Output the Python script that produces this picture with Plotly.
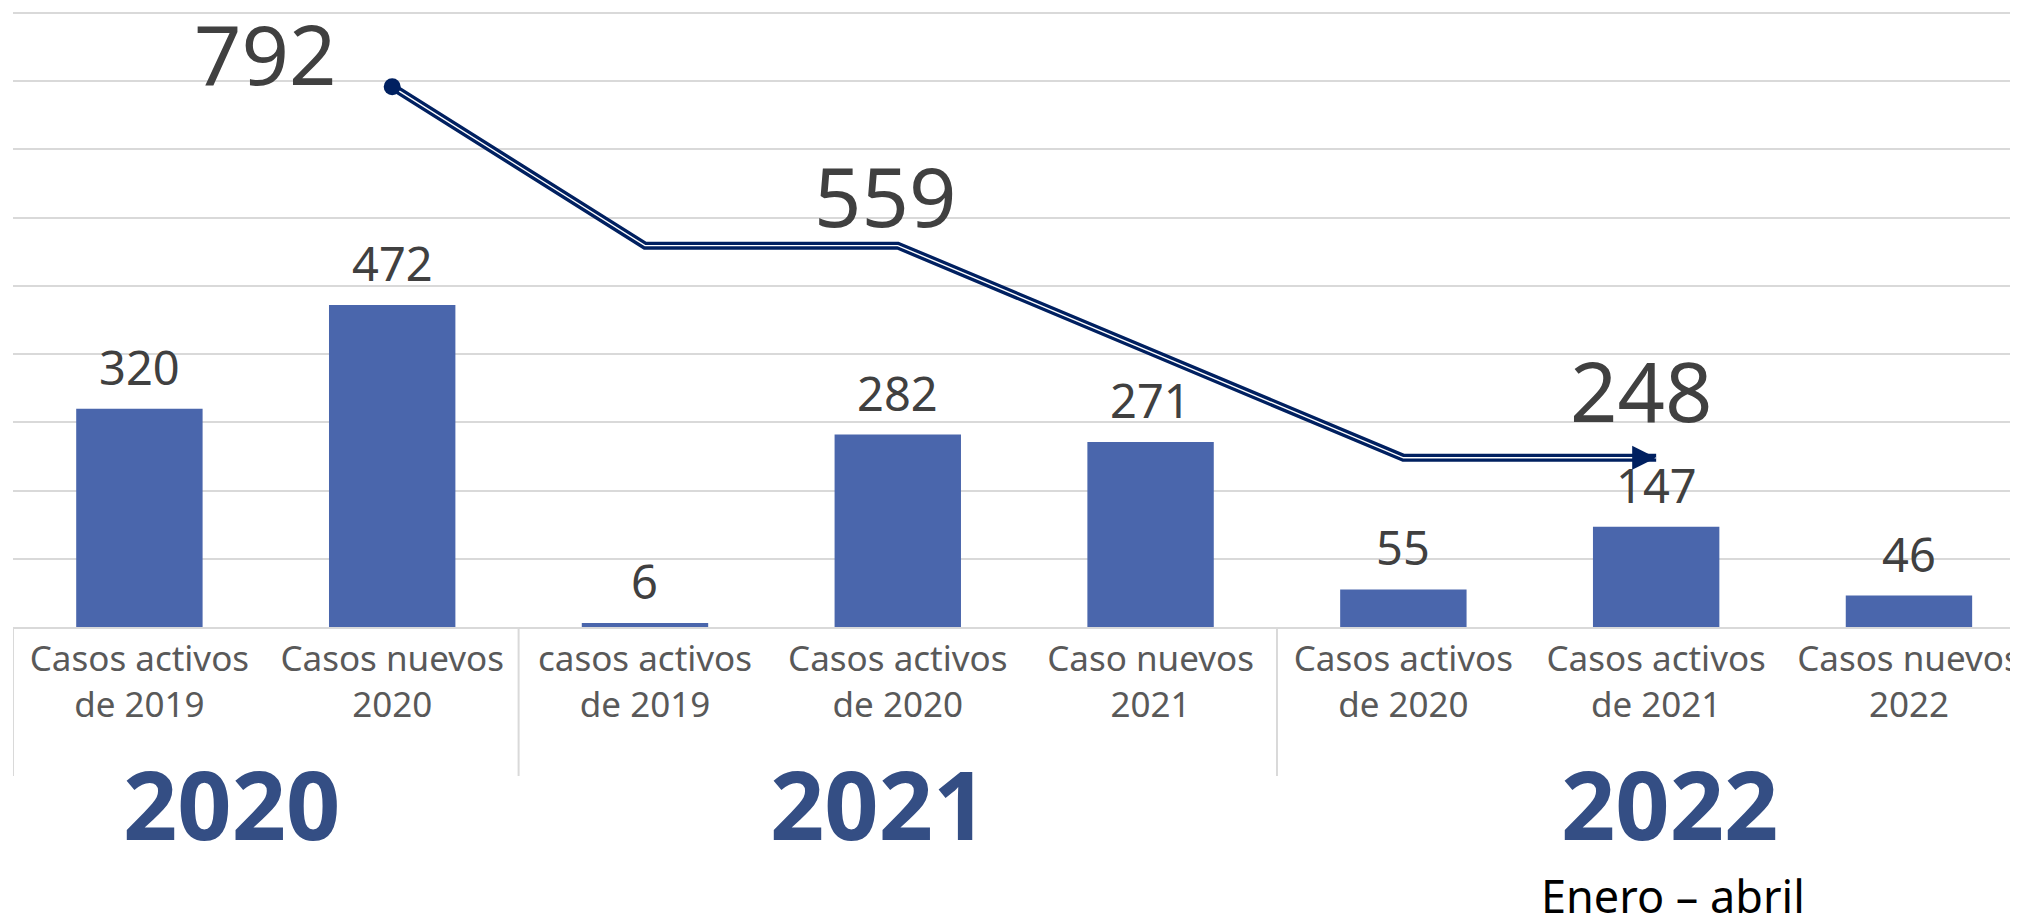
import plotly.graph_objects as go

# ---- data ----
categories = [
    "Casos activos<br>de 2019", "Casos nuevos<br>2020",
    "casos activos<br>de 2019", "Casos activos<br>de 2020", "Caso nuevos<br>2021",
    "Casos activos<br>de 2020", "Casos activos<br>de 2021", "Casos nuevos<br>2022",
]
values = [320, 472, 6, 282, 271, 55, 147, 46]
groups = ["2020", "2021", "2022"]
group_sizes = [2, 3, 3]
group_note = "Enero – abril"
total_labels = ["792", "559", "248"]
line_idx = [1, 2, 3, 5, 6]
line_vals = [792, 559, 559, 248, 248]

BAR = "#4A66AC"
NAVY = "#002060"
GRID = "#D9D9D9"
FONT = "Noto Sans"

x = list(range(len(categories)))
fig = go.Figure()
fig.add_trace(go.Bar(x=x, y=values, width=0.5, marker_color=BAR,
                     marker_line_width=0, hoverinfo="skip"))

# compound (double) line
fig.add_trace(go.Scatter(x=line_idx, y=line_vals, mode="lines",
                         line=dict(color=NAVY, width=8), hoverinfo="skip"))
fig.add_trace(go.Scatter(x=line_idx, y=line_vals, mode="lines",
                         line=dict(color="white", width=1.4), hoverinfo="skip"))
# start dot and end arrow
fig.add_trace(go.Scatter(x=line_idx[:1], y=line_vals[:1], mode="markers", hoverinfo="skip",
                         marker=dict(symbol="circle", size=17, color=NAVY)))
fig.add_trace(go.Scatter(x=line_idx[-1:], y=line_vals[-1:], mode="markers", hoverinfo="skip",
                         marker=dict(symbol="arrow-right", size=24, color=NAVY,
                                     line=dict(width=0))))

annotations = []
# bar value labels
for i, v in enumerate(values):
    annotations.append(dict(x=i, y=v, text=str(v), showarrow=False,
                            yanchor="bottom", yshift=8,
                            font=dict(family=FONT, size=47, color="#404040")))
# total labels (above the year line)
tot_points = [(1, 792, -127, 34), (3, 559, -13, 51), (6, 248, -15, 68)]
for lbl, (px, py, xs, ys) in zip(total_labels, tot_points):
    annotations.append(dict(x=px, y=py, text=lbl, showarrow=False,
                            xanchor="center", yanchor="middle", xshift=xs, yshift=ys,
                            font=dict(family=FONT, size=83, color="#404040")))

# group labels and separators
shapes = []
start = -0.5
xshifts = [-34, -19, 13]
for g, size, xs in zip(groups, group_sizes, xshifts):
    center = start + size / 2
    annotations.append(dict(x=center, y=-0.284, xref="x", yref="paper", text=f"<b>{g}</b>",
                            showarrow=False, xanchor="center", yanchor="middle", xshift=xs,
                            font=dict(family=FONT, size=95, color="#344E84")))
    shapes.append(dict(type="line", xref="x", yref="paper", x0=start, x1=start,
                       y0=0, y1=-0.2407, line=dict(color=GRID, width=2)))
    last_center = center
    start += size
annotations.append(dict(x=last_center, y=-0.434, xref="x", yref="paper", text=group_note,
                        showarrow=False, xanchor="center", yanchor="middle", xshift=17,
                        font=dict(family=FONT, size=45, color="black")))

# the page body adds an 8px offset; margins compensate for it
fig.update_layout(
    width=2018, height=918,
    margin=dict(l=5, r=0, t=0, b=299, autoexpand=False),
    paper_bgcolor="white", plot_bgcolor="white",
    showlegend=False, bargap=0.5,
    annotations=annotations, shapes=shapes,
    xaxis=dict(range=[-0.5, 7.463], tickvals=x, ticktext=categories, automargin=False,
               ticklabeloverflow="allow",
               showgrid=False, zeroline=False, showline=True, linecolor=GRID, linewidth=2,
               ticks="", tickfont=dict(family=FONT, size=35, color="#595959")),
    yaxis=dict(range=[0, 907.3], dtick=100, showgrid=True, gridcolor=GRID, gridwidth=2,
               automargin=False, showticklabels=False, zeroline=False, showline=False,
               fixedrange=True),
)
fig.write_html("out.html")
